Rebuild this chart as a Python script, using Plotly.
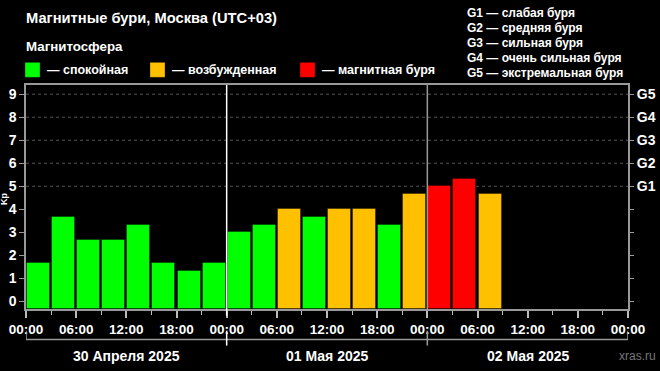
import plotly.graph_objects as go

# ---- data ----
hours = [1.5 + 3 * i for i in range(19)]  # 3-hour interval centres, hours since 30 Apr 00:00
kp = [1.67, 3.67, 2.67, 2.67, 3.33, 1.67, 1.33, 1.67,
      3.0, 3.33, 4.0, 3.67, 4.0, 4.0, 3.33, 4.67,
      5.0, 5.33, 4.67]
status = ["q", "q", "q", "q", "q", "q", "q", "q",
          "q", "q", "a", "q", "a", "a", "q", "a",
          "s", "s", "a"]
status_colors = {"q": "#00FF00", "a": "#FFC000", "s": "#FF0000"}
status_names = {"q": "— спокойная", "a": "— возбужденная", "s": "— магнитная буря"}
g_levels = [5, 6, 7, 8, 9]
g_labels = ["G1", "G2", "G3", "G4", "G5"]
g_desc = ["слабая буря", "средняя буря", "сильная буря", "очень сильная буря", "экстремальная буря"]
tick_hours = [0, 6, 12, 18, 24, 30, 36, 42, 48, 54, 60, 66, 72]
tick_text = ["00:00", "06:00", "12:00", "18:00"] * 3 + ["00:00"]
days = ["30 Апреля 2025", "01 Мая 2025", "02 Мая 2025"]
day_bounds = [0, 24, 48, 72]

Y_MIN, Y_MAX = -0.33, 9.4
W, H = 660, 371
L, R, T, B = 26, 628, 84.7, 309.3

def px(x):
    return (x - L) / (R - L)

def py(y):
    return (B - y) / (B - T)

FONT = "Liberation Sans, Arial, sans-serif"

fig = go.Figure()
fig.add_trace(go.Bar(
    x=hours, y=[v - Y_MIN for v in kp], base=Y_MIN,
    marker=dict(color=[status_colors[s] for s in status],
                line=dict(color="rgba(0,0,0,0.35)", width=1)),
    width=2.75, hoverinfo="skip", showlegend=False))
# dummy trace for right axis
fig.add_trace(go.Scatter(x=[None], y=[None], yaxis="y2", showlegend=False))

shapes = []
for g in g_levels:
    shapes.append(dict(type="line", xref="x", yref="y", x0=0, x1=72, y0=g, y1=g,
                       line=dict(color="#555555", width=1, dash="dot"), layer="below"))
shapes.append(dict(type="line", xref="x", yref="paper", x0=24, x1=24, y0=py(316), y1=1,
                   line=dict(color="#FFFFFF", width=1.5)))
shapes.append(dict(type="line", xref="x", yref="paper", x0=48, x1=48, y0=0, y1=1,
                   line=dict(color="#999999", width=1.5)))
# day bracket
shapes.append(dict(type="line", xref="x", yref="paper", x0=0, x1=72, y0=py(340), y1=py(340),
                   line=dict(color="#999999", width=1.5)))
for d in day_bounds:
    col = "#FFFFFF" if d == 24 else "#999999"
    shapes.append(dict(type="line", xref="x", yref="paper", x0=d, x1=d,
                       y0=py(346 if d in (24, 48) else 340), y1=py(331),
                       line=dict(color=col, width=1.5)))

annotations = []
annotations.append(dict(text="<b>Магнитные бури, Москва (UTC+03)</b>", xref="paper", yref="paper",
                        x=px(24), y=py(18), xanchor="left", yanchor="middle", showarrow=False,
                        font=dict(size=14.7, color="white", family=FONT)))
annotations.append(dict(text="<b>Магнитосфера</b>", xref="paper", yref="paper",
                        x=px(24), y=py(46), xanchor="left", yanchor="middle", showarrow=False,
                        font=dict(size=13.3, color="white", family=FONT)))
leg_x = {"q": 25, "a": 150, "s": 300}
for s in ["q", "a", "s"]:
    x0 = leg_x[s]
    shapes.append(dict(type="rect", xref="paper", yref="paper", x0=px(x0), x1=px(x0 + 15),
                       y0=py(77), y1=py(62), fillcolor=status_colors[s],
                       line=dict(color="rgba(0,0,0,0.3)", width=1)))
    annotations.append(dict(text="<b>" + status_names[s] + "</b>", xref="paper", yref="paper",
                            x=px(x0 + 20), y=py(70), xanchor="left", yanchor="middle",
                            showarrow=False, font=dict(size=12.5, color="white", family=FONT)))
for i, (gl, gd) in enumerate(zip(g_labels, g_desc)):
    annotations.append(dict(text="<b>" + gl + " — " + gd + "</b>", xref="paper", yref="paper",
                            x=px(465), y=py(13 + 15 * i), xanchor="left", yanchor="middle",
                            showarrow=False, font=dict(size=12, color="white", family=FONT)))
for i, dname in enumerate(days):
    annotations.append(dict(text="<b>" + dname + "</b>", xref="x", yref="paper",
                            x=(day_bounds[i] + day_bounds[i + 1]) / 2, y=py(356),
                            xanchor="center", yanchor="middle", showarrow=False,
                            font=dict(size=14, color="white", family=FONT)))
annotations.append(dict(text="xras.ru", xref="paper", yref="paper", x=px(658), y=py(356),
                        xanchor="right", yanchor="middle", showarrow=False,
                        font=dict(size=12, color="#777777", family=FONT)))
annotations.append(dict(text="<b>Kp</b>", xref="paper", yref="paper", x=px(4), y=py(198),
                        xanchor="center", yanchor="middle", textangle=-90, showarrow=False,
                        font=dict(size=9, color="white", family=FONT)))

fig.update_layout(
    width=W, height=H,
    margin=dict(l=L, r=W - R, t=T, b=H - B, pad=0, autoexpand=False),
    paper_bgcolor="black", plot_bgcolor="black",
    font=dict(family=FONT, color="white"),
    bargap=0,
    xaxis=dict(range=[0, 72], tickvals=tick_hours, ticktext=tick_text, automargin=False,
               showgrid=False, zeroline=False, showline=True, linecolor="#999999", linewidth=1.5,
               mirror=True, ticks="outside", ticklen=7, tickcolor="#BBBBBB", tickwidth=1.5,
               minor=dict(dtick=3, tick0=0, ticks="outside", ticklen=4, tickcolor="#BBBBBB", tickwidth=1),
               tickfont=dict(size=13.5, color="white", family=FONT, weight="bold")),
    yaxis=dict(range=[Y_MIN, Y_MAX], tickvals=list(range(10)), automargin=False,
               showgrid=False, zeroline=False, showline=True, linecolor="#999999", linewidth=1.5,
               mirror=True, ticks="outside", ticklen=5, tickcolor="#999999", tickwidth=1,
               tickfont=dict(size=14, color="white", family=FONT, weight="bold")),
    yaxis2=dict(range=[Y_MIN, Y_MAX], overlaying="y", side="right", automargin=False,
                tickvals=list(range(10)), ticktext=[""] * 5 + g_labels,
                showgrid=False, zeroline=False, showline=False,
                ticks="outside", ticklen=5, tickcolor="#999999", tickwidth=1,
                tickfont=dict(size=14, color="white", family=FONT, weight="bold")),
    shapes=shapes, annotations=annotations,
)

fig.write_html("out.html", config={"displayModeBar": False},
               post_script="document.body.style.margin='0';document.body.style.background='black';")
